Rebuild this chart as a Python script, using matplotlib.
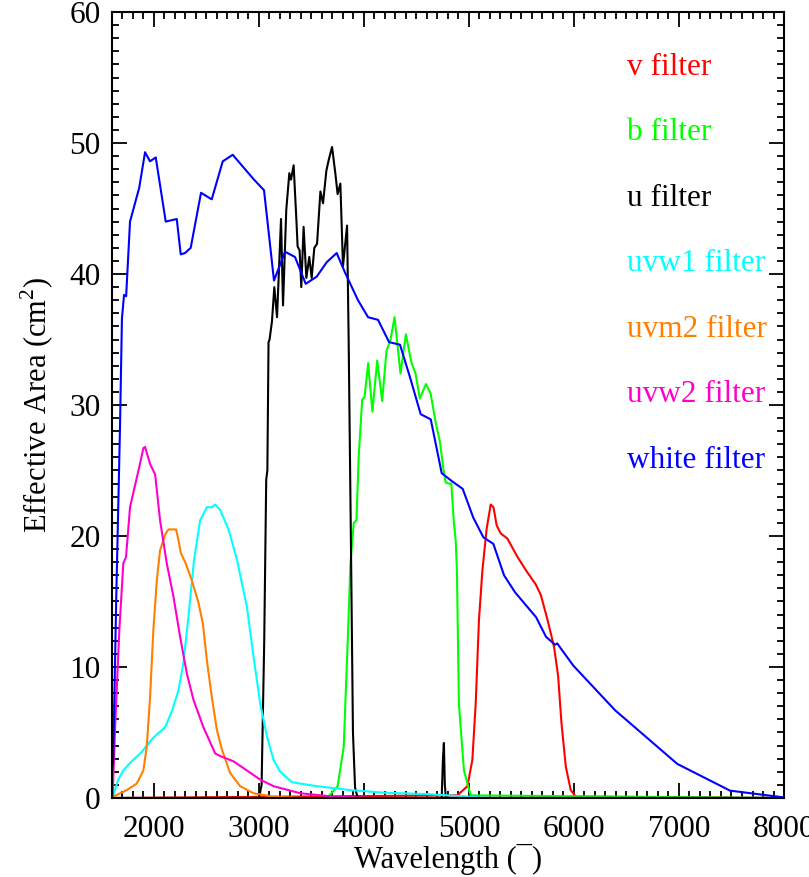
import matplotlib
matplotlib.use("Agg")
import matplotlib.pyplot as plt
from matplotlib.ticker import MultipleLocator

# effective area curves (wavelength in A, area in cm^2)
v_wave = [1600, 4889, 4985, 5032, 5064, 5095, 5128, 5169, 5207, 5233, 5264, 5302, 5366,
          5462, 5541, 5636, 5684, 5748, 5811, 5849, 5881, 5922, 5969, 6018, 8000]
v_area = [0, 0.2, 0.9, 2.9, 7.2, 13.6, 17.4, 20.6, 22.4, 22.2, 20.8, 20.2, 19.8,
          18.4, 17.4, 16.3, 15.5, 13.6, 11.5, 9.3, 5.7, 2.4, 0.6, 0.1, 0]

b_wave = [1600, 3649, 3749, 3807, 3849, 3871, 3903, 3928, 3950, 3983, 4005, 4040, 4080,
          4126, 4173, 4214, 4253, 4291, 4348, 4399, 4450, 4491, 4532, 4590, 4634, 4682,
          4723, 4755, 4777, 4809, 4832, 4856, 4873, 4885, 4904, 4952, 5016, 8000]
b_area = [0, 0, 0.9, 3.9, 12.8, 17.9, 21.0, 21.2, 26.1, 30.4, 30.6, 33.2, 29.5,
          33.4, 30.3, 34.1, 35.0, 36.7, 32.4, 35.4, 33.3, 32.4, 30.5, 31.6, 30.9, 28.7,
          27.2, 25.2, 24.1, 24.0, 24.0, 21.0, 19.7, 17.4, 7.2, 2.1, 0.2, 0]

u_wave = [1600, 3000, 3025, 3050, 3069, 3080, 3091, 3101, 3124, 3146, 3172, 3210, 3229,
          3260, 3289, 3305, 3330, 3356, 3368, 3387, 3403, 3425, 3451, 3479, 3502,
          3527, 3553, 3585, 3610, 3642, 3664, 3696, 3727, 3749, 3775, 3800, 3839,
          3854, 3875, 3895, 3915, 3940, 4740, 4752, 4761, 4770, 4780, 8000]
u_area = [0, 0, 1.0, 12.0, 24.3, 25.0, 34.8, 35.0, 36.4, 39.0, 36.7, 44.2, 37.6,
          44.9, 47.7, 47.2, 48.3, 44.2, 42.1, 41.8, 39.0, 43.6, 39.7, 41.3, 39.7,
          42.0, 42.3, 46.3, 45.4, 47.9, 48.7, 49.7, 47.7, 46.1, 46.9, 40.6, 43.7,
          35.0, 20.0, 5.0, 0.8, 0, 0, 3.0, 4.2, 1.0, 0, 0]

uvw1_wave = [1600, 1607, 1660, 1708, 1788, 1883, 1931, 1994, 2106, 2170, 2233, 2280,
             2328, 2382, 2440, 2504, 2551, 2583, 2630, 2710, 2790, 2885, 2948, 3012,
             3076, 3139, 3203, 3315, 3553, 3871, 4200, 4600, 5000, 5200, 8000]
uvw1_area = [0, 0.1, 1.4, 2.1, 2.8, 3.5, 4.0, 4.6, 5.4, 6.6, 8.2, 10.3,
             13.8, 18.2, 21.2, 22.2, 22.2, 22.4, 22.0, 20.5, 18.2, 14.6, 10.8, 7.2,
             4.7, 2.9, 2.0, 1.2, 0.9, 0.6, 0.4, 0.3, 0.1, 0, 0]

uvm2_wave = [1600, 1612, 1740, 1836, 1899, 1931, 1963, 1994, 2027, 2058, 2106, 2137,
             2211, 2233, 2256, 2297, 2361, 2424, 2466, 2504, 2551, 2599, 2647, 2726,
             2821, 2948, 3139, 3400, 8000]
uvm2_area = [0, 0.1, 0.6, 1.1, 2.1, 3.9, 7.7, 12.8, 16.6, 18.9, 20.1, 20.5,
             20.5, 19.7, 18.7, 18.0, 16.6, 14.9, 13.3, 10.5, 7.7, 5.2, 3.7, 1.9,
             0.9, 0.36, 0.1, 0, 0]

uvw2_wave = [1600, 1607, 1629, 1670, 1708, 1734, 1772, 1861, 1899, 1915, 1963, 2011,
             2058, 2122, 2185, 2249, 2313, 2376, 2471, 2583, 2630, 2757, 2885, 3012,
             3139, 3394, 3712, 4100, 8000]
uvw2_area = [0, 0.2, 5.2, 12.8, 17.9, 18.4, 22.2, 25.3, 26.7, 26.8, 25.5, 24.7,
             21.2, 17.9, 15.4, 12.3, 9.5, 7.5, 5.4, 3.4, 3.2, 2.8, 2.1, 1.4,
             0.9, 0.36, 0.1, 0, 0]

white_wave = [1600, 1612, 1640, 1676, 1695, 1715, 1735, 1772, 1860, 1915, 1962, 2017,
              2112, 2217, 2255, 2296, 2350, 2448, 2550, 2655, 2750, 2953, 3048, 3143,
              3248, 3343, 3445, 3550, 3645, 3740, 3820, 3943, 4039, 4134, 4239, 4343,
              4439, 4540, 4636, 4740, 4835, 4940, 5041, 5137, 5232, 5334, 5439, 5639,
              5734, 5820, 5841, 5867, 5994, 6391, 6984, 7486, 7994]
white_area = [2.0, 2.9, 15.0, 28.1, 36.6, 38.4, 38.3, 44.0, 46.6, 49.3, 48.6, 48.9,
              44.0, 44.2, 41.5, 41.6, 42.0, 46.2, 45.7, 48.6, 49.1, 47.2, 46.4, 39.5,
              41.7, 41.3, 39.25, 39.8, 40.9, 41.6, 40.1, 38.0, 36.7, 36.5, 34.8, 34.6,
              32.1, 29.3, 28.9, 24.8, 24.2, 23.6, 21.4, 19.9, 19.4, 17.0, 15.7, 13.8,
              12.3, 11.7, 11.8, 11.5, 10.1, 6.7, 2.6, 0.56, 0.05]

labels = ['v filter', 'b filter', 'u filter', 'uvw1 filter', 'uvm2 filter',
          'uvw2 filter', 'white filter']
colors = ['#ff0000', '#00ff00', '#000000', '#00ffff', '#ff7f00', '#ff00cc', '#0000ff']

plt.rcParams['font.family'] = ['Liberation Serif', 'DejaVu Serif']
plt.rcParams['mathtext.fontset'] = 'custom'
plt.rcParams['mathtext.rm'] = 'Liberation Serif'

fig = plt.figure(figsize=(8.09, 8.77), dpi=100)
ax = fig.add_axes([0.1384, 0.0901, 0.8307, 0.8962])

curves = [(v_wave, v_area), (b_wave, b_area), (u_wave, u_area), (uvw1_wave, uvw1_area),
          (uvm2_wave, uvm2_area), (uvw2_wave, uvw2_area), (white_wave, white_area)]
for (w, a), c in zip(curves, colors):
    ax.plot(w, a, color=c, lw=1.5)

# coloured labels stacked down the right side
for i, (lab, c) in enumerate(zip(labels, colors)):
    ax.text(6505, 55.8 - 5.0 * i, lab, color=c, fontsize=22.5, va='center', ha='left')

ax.set_xlim(1600, 8000)
ax.set_ylim(0, 60)
ax.xaxis.set_major_locator(MultipleLocator(1000))
ax.xaxis.set_minor_locator(MultipleLocator(100))
ax.yaxis.set_major_locator(MultipleLocator(10))
ax.yaxis.set_minor_locator(MultipleLocator(1))
ax.tick_params(which='both', direction='in', top=True, right=True, width=1.3,
               labelsize=22.5)
ax.tick_params(which='major', length=11)
ax.tick_params(which='minor', length=5)
ax.tick_params(axis='x', pad=12)
ax.tick_params(axis='y', pad=8)
for s in ax.spines.values():
    s.set_linewidth(1.5)

ax.set_xlabel('Wavelength (\u00af)', fontsize=22, labelpad=0)
ax.set_ylabel(r'Effective Area (cm$^\mathrm{2}$)', fontsize=22, labelpad=10)

fig.savefig('out.png', dpi=100)
